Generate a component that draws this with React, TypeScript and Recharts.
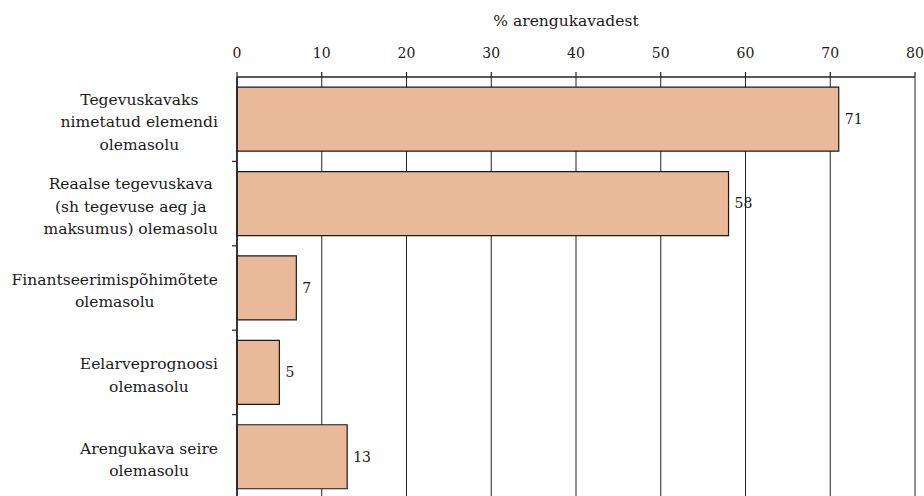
import React from 'react';
import {
  BarChart,
  Bar,
  XAxis,
  YAxis,
  CartesianGrid,
  LabelList,
  Label,
} from 'recharts';

// Categories (multi-line labels split on "\n") and share of development plans, %
const categories: string[] = [
  'Tegevuskavaks\nnimetatud elemendi\nolemasolu',
  'Reaalse tegevuskava\n(sh tegevuse aeg ja\nmaksumus) olemasolu',
  'Finantseerimispõhimõtete\nolemasolu',
  'Eelarveprognoosi\nolemasolu',
  'Arengukava seire\nolemasolu',
];
const shares: number[] = [71, 58, 7, 5, 13];
const xTicks: number[] = [0, 10, 20, 30, 40, 50, 60, 70, 80];
const axisTitle = '% arengukavadest';

const data = categories.map((name, i) => ({ name, value: shares[i] }));

const FONT = 'DejaVu Serif';
const LABEL_SIZE = 15.5;
const NUM_SIZE = 14;
const LINE_H = 22.5;
const SEP_TICK = 5;
const CAT_TICK_MARGIN = 19;

let measureCtx: CanvasRenderingContext2D | null = null;
const textWidth = (s: string): number => {
  if (!measureCtx) {
    const c = document.createElement('canvas');
    measureCtx = c.getContext('2d');
  }
  if (!measureCtx) return s.length * LABEL_SIZE * 0.55;
  measureCtx.font = `${LABEL_SIZE}px "${FONT}"`;
  return measureCtx.measureText(s).width;
};

// Category label: a paragraph of centred lines, right-aligned as a block,
// plus a short separator tick on the axis at the lower edge of the band
const CategoryTick = (props: any) => {
  const { x, y, payload, index, visibleTicksCount } = props;
  const axisRight = x + CAT_TICK_MARGIN;
  const lines: string[] = String(payload.value).split('\n');
  const blockW = Math.max(...lines.map(textWidth));
  const cx = x - blockW / 2;
  const n = lines.length;
  const count = visibleTicksCount || categories.length;
  const band = typeof props.height === 'number' ? props.height / count : 0;
  const showSep = band > 0 && index < count - 1;
  return (
    <g>
      {lines.map((line, i) => (
        <text
          key={i}
          x={cx}
          y={y + 8 + (i - (n - 1) / 2) * LINE_H}
          textAnchor="middle"
          fontFamily={FONT}
          fontSize={LABEL_SIZE}
          fill="#1a1a1a"
        >
          {line}
        </text>
      ))}
      {showSep && (
        <line
          x1={axisRight - SEP_TICK}
          x2={axisRight}
          y1={y + band / 2}
          y2={y + band / 2}
          stroke="#222"
          strokeWidth={1.2}
        />
      )}
    </g>
  );
};

export default function App() {
  return (
    <div style={{ position: 'absolute', left: 0, top: 0 }}>
      <BarChart
        width={924}
        height={500}
        data={data}
        layout="vertical"
        margin={{ top: 0, right: 9, bottom: 1, left: 0 }}
        barCategoryGap="12%"
      >
        <CartesianGrid horizontal={false} vertical stroke="#222" strokeWidth={1} />
        <XAxis
          type="number"
          orientation="top"
          domain={[0, 80]}
          ticks={xTicks}
          interval={0}
          height={77}
          tickSize={5}
          tickMargin={14}
          axisLine={{ stroke: '#222', strokeWidth: 1.6 }}
          tickLine={{ stroke: '#222', strokeWidth: 1.2 }}
          tick={{ fontFamily: FONT, fontSize: NUM_SIZE, fill: '#1a1a1a' }}
        >
          <Label
            value={axisTitle}
            position="insideTop"
            offset={15}
            dx={-10}
            fontFamily={FONT}
            fontSize={LABEL_SIZE}
            fill="#1a1a1a"
          />
        </XAxis>
        <YAxis
          type="category"
          dataKey="name"
          width={237}
          tickSize={0}
          tickMargin={CAT_TICK_MARGIN}
          tickLine={false}
          axisLine={{ stroke: '#222', strokeWidth: 1.6 }}
          tick={<CategoryTick />}
          interval={0}
        />
        <Bar
          dataKey="value"
          fill="#E9B999"
          stroke="#1a1a1a"
          strokeWidth={1.2}
          isAnimationActive={false}
        >
          <LabelList
            dataKey="value"
            position="right"
            offset={6}
            fontFamily={FONT}
            fontSize={NUM_SIZE}
            fill="#1a1a1a"
          />
        </Bar>
      </BarChart>
    </div>
  );
}
